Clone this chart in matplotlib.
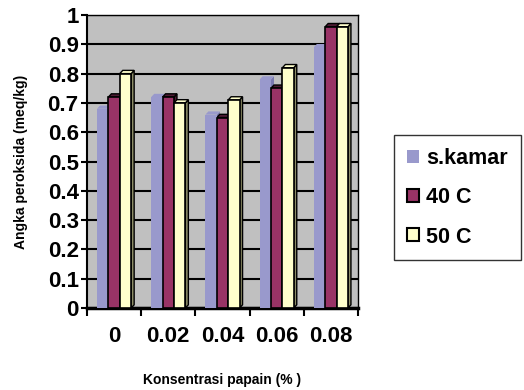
import matplotlib.pyplot as plt
from matplotlib.patches import Polygon

# data
kategori = ["0", "0.02", "0.04", "0.06", "0.08"]
s_kamar = [0.68, 0.72, 0.66, 0.78, 0.89]
suhu_40 = [0.72, 0.72, 0.65, 0.75, 0.96]
suhu_50 = [0.80, 0.70, 0.71, 0.82, 0.96]
label_seri = ["s.kamar", "40 C", "50 C"]

plt.rcParams['font.family'] = ['Liberation Sans', 'DejaVu Sans']
plt.rcParams['font.weight'] = 'bold'

fig = plt.figure(figsize=(5.24, 3.9), dpi=100)
ax = fig.add_axes([87/524, 82/390, 271/524, 293/390])
ax.set_facecolor("#c0c0c0")

warna = ["#9999cc", "#993366", "#ffffcc"]
warna_sisi = ["#7a7ab0", "#4d1a33", "#8c8c66"]
tepi = ["none", "black", "black"]
lebar = 0.21
geser = [-0.21, 0, 0.21]
dx, dy = 0.055, 0.011

x = list(range(len(kategori)))
for s, nilai in enumerate([s_kamar, suhu_40, suhu_50]):
    for i, h in enumerate(nilai):
        xc = x[i] + geser[s]
        kiri, kanan = xc - lebar/2, xc + lebar/2
        # sisi samping dan atas (efek 3D)
        sisi = Polygon([(kanan, 0), (kanan + dx, dy), (kanan + dx, h + dy), (kanan, h)],
                       closed=True, facecolor=warna_sisi[s], edgecolor=tepi[s],
                       linewidth=1, zorder=3)
        atas = Polygon([(kiri, h), (kiri + dx, h + dy), (kanan + dx, h + dy), (kanan, h)],
                       closed=True, facecolor=warna_sisi[s] if s == 1 else warna[s],
                       edgecolor=tepi[s], linewidth=1, zorder=3)
        ax.add_patch(sisi)
        ax.add_patch(atas)
    ax.bar([xi + geser[s] for xi in x], nilai, width=lebar, color=warna[s],
           edgecolor=tepi[s], linewidth=1.2, zorder=4, label=label_seri[s])

ax.set_xlim(-0.5, 4.5)
ax.set_ylim(0, 1)
ax.set_yticks([i/10 for i in range(11)])
ax.set_yticklabels(["0", "0.1", "0.2", "0.3", "0.4", "0.5", "0.6", "0.7", "0.8", "0.9", "1"])
ax.yaxis.grid(True, color="black", linewidth=1.5, zorder=1)
ax.set_axisbelow(True)
ax.tick_params(axis='y', labelsize=16, length=4, width=1.5, pad=2)

ax.set_xticks(x)
ax.set_xticklabels(kategori)
ax.set_xticks([i - 0.5 for i in range(6)], minor=True)
ax.tick_params(axis='x', which='major', length=0, labelsize=16, pad=13)
ax.tick_params(axis='x', which='minor', length=6, width=1.5, direction='out')

for sp in ax.spines.values():
    sp.set_color("black")
    sp.set_linewidth(1)
ax.spines['bottom'].set_linewidth(2.5)
ax.spines['left'].set_linewidth(1.5)

ax.set_xlabel("Konsentrasi papain (% )", fontsize=10, fontweight='bold', labelpad=19)
ax.set_ylabel("Angka peroksida (meq/kg)", fontsize=10, fontweight='bold', labelpad=14)

handles = [plt.Rectangle((0, 0), 1, 1, facecolor=warna[k], edgecolor=tepi[k], linewidth=1.5)
           for k in range(3)]
leg = fig.legend(handles, label_seri, loc='upper left', bbox_to_anchor=(394/524, 1 - 135/390),
                 frameon=True, fancybox=False, edgecolor="black", fontsize=15.5,
                 handlelength=0.55, handleheight=0.55, handletextpad=0.35,
                 labelspacing=0.85, borderpad=0.6, borderaxespad=0)
leg.get_frame().set_linewidth(1)

plt.savefig("out.png", dpi=100)
